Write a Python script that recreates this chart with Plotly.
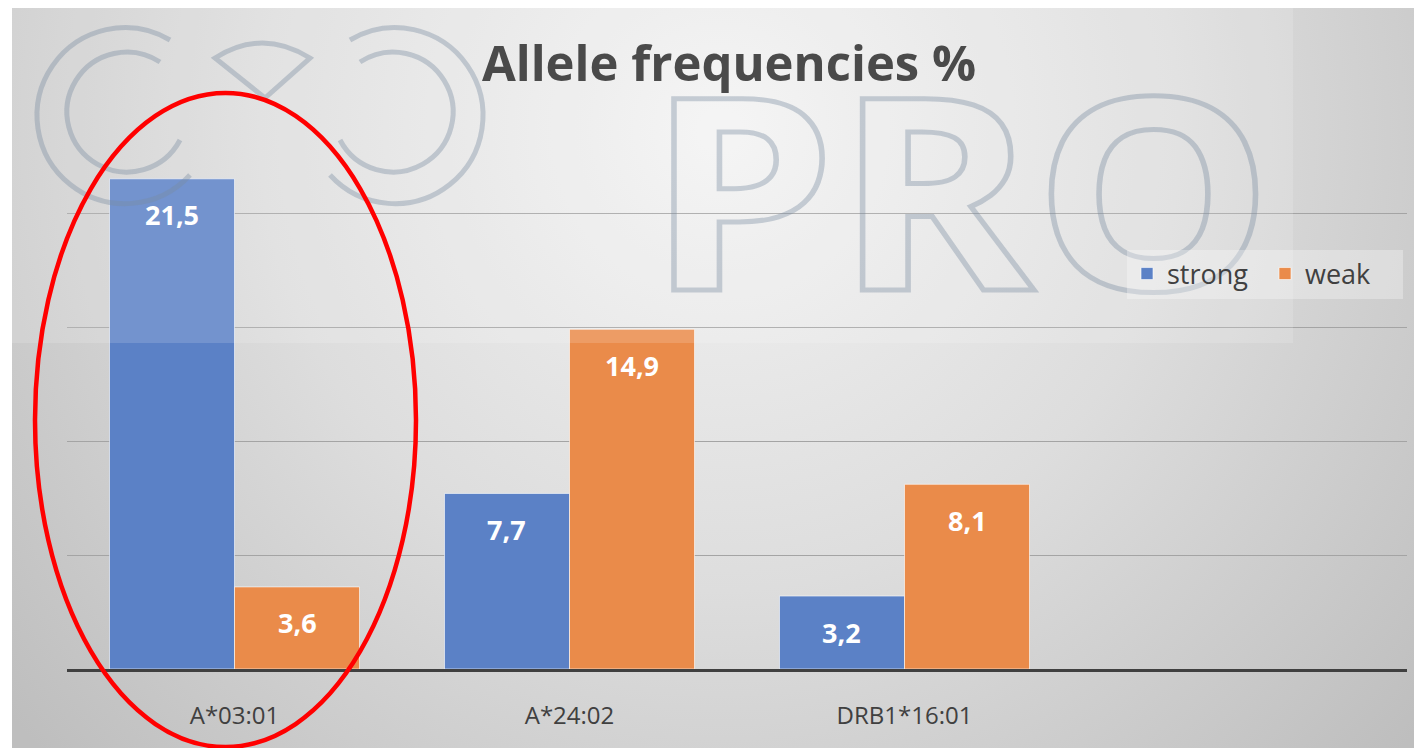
import base64
import plotly.graph_objects as go

# ---- data ----
categories = ["A*03:01", "A*24:02", "DRB1*16:01"]
strong = [21.5, 7.7, 3.2]
weak = [3.6, 14.9, 8.1]
series_names = ["strong", "weak"]
title_text = "Allele frequencies %"

BLUE = "#5b81c6"
ORANGE = "#ea8b4a"
OFF = 8  # page body margin
W, H = 1422 - OFF, 748 - OFF
L, T = 67 - OFF, 99 - OFF
R = W - (1407 - OFF)
B = H - (669 - OFF)
PW, PH = W - L - R, H - T - B


def px(v):
    return v - OFF


def fmt(v):
    return f"{v:.1f}".replace(".", ",")


def svg_uri(svg):
    return "data:image/svg+xml;base64," + base64.b64encode(svg.encode()).decode()


bg_svg = f"""<svg xmlns='http://www.w3.org/2000/svg' width='{W}' height='{H}' viewBox='0 0 {W} {H}'>
<defs><radialGradient id='g' gradientUnits='userSpaceOnUse' cx='{px(720)}' cy='{px(130)}' r='920'>
<stop offset='0' stop-color='#f3f3f3'/><stop offset='0.5' stop-color='#dddddd'/><stop offset='1' stop-color='#bebebe'/>
</radialGradient></defs>
<rect x='0' y='0' width='{W}' height='{H}' fill='#ffffff'/>
<rect x='{px(12)}' y='0' width='{W}' height='{H}' fill='url(#g)'/>
</svg>"""

wm_stroke = "rgba(120,140,160,0.38)"
wm_svg = f"""<svg xmlns='http://www.w3.org/2000/svg' width='{W}' height='{H}' viewBox='0 0 {W} {H}'>
<rect x='{px(12)}' y='0' width='{1293-12}' height='{px(343)}' fill='rgba(255,255,255,0.15)'/>
<g fill='none' stroke='{wm_stroke}' stroke-width='5'>
<path d='M {px(170)} {px(40)} A 88 88 0 1 0 {px(190)} {px(175)}'/>
<path d='M {px(160)} {px(62)} A 60 60 0 1 0 {px(180)} {px(140)}'/>
<path d='M {px(350)} {px(40)} A 88 88 0 1 1 {px(330)} {px(175)}'/>
<path d='M {px(360)} {px(62)} A 60 60 0 1 1 {px(340)} {px(140)}'/>
<path d='M {px(215)} {px(58)} Q {px(262)} {px(28)} {px(310)} {px(58)} L {px(265)} {px(98)} Z'/>
<text x='{px(647)}' y='{px(290)}' font-family='Open Sans' font-weight='700' font-size='268'
 textLength='626' lengthAdjust='spacingAndGlyphs'>PRO</text>
</g>
</svg>"""

fig = go.Figure()
fig.add_trace(go.Bar(name=series_names[0], x=categories, y=strong,
                     marker=dict(color=BLUE, line=dict(color="rgba(255,255,255,0.6)", width=1))))
fig.add_trace(go.Bar(name=series_names[1], x=categories, y=weak,
                     marker=dict(color=ORANGE, line=dict(color="rgba(255,255,255,0.6)", width=1))))

cat_px = PW / 4.0
bar_off = cat_px * (1 - 0.2537) / 4.0
annotations = []
for vals, sign in ((strong, -1), (weak, 1)):
    for c, v in zip(categories, vals):
        annotations.append(dict(x=c, y=v, xref="x", yref="y", text=fmt(v), showarrow=False,
                                xshift=sign * bar_off, yshift=-36,
                                font=dict(family="Open Sans", size=27, color="white", weight="bold")))

fig.update_layout(
    width=W, height=H,
    margin=dict(l=L, r=R, t=T, b=B),
    paper_bgcolor="white", plot_bgcolor="rgba(0,0,0,0)",
    barmode="group", bargap=0.2537, bargroupgap=0,
    separators=", ",
    title=dict(text=title_text, x=px(729) / W, xanchor="center", y=1 - px(64) / H, yanchor="middle",
               xref="container", yref="container",
               font=dict(family="Open Sans", size=49, color="#4a4a4a", weight="bold")),
    xaxis=dict(type="category", range=[-0.5, 3.5], showgrid=False, ticks="",
               showline=True, linecolor="#404040", linewidth=3,
               tickfont=dict(family="Open Sans", size=24, color="#404040"),
               ticklabelstandoff=23),
    yaxis=dict(range=[0, 25], dtick=5, showticklabels=False, showgrid=True,
               gridcolor="#a4a4a4", gridwidth=1, zeroline=False, showline=False),
    legend=dict(orientation="h", x=(px(1403) - L) / PW, xanchor="right",
                y=(px(669) - px(274)) / PH, yanchor="middle",
                bgcolor="rgba(255,255,255,0.3)", font=dict(family="Open Sans", size=27, color="#404040"),
                itemwidth=30, entrywidth=93, tracegroupgap=0),
    showlegend=True,
    annotations=annotations,
    images=[
        dict(source=svg_uri(bg_svg), xref="paper", yref="paper", x=-L / PW, y=(H - B) / PH,
             sizex=W / PW, sizey=H / PH, sizing="stretch", xanchor="left", yanchor="top", layer="below"),
        dict(source=svg_uri(wm_svg), xref="paper", yref="paper", x=-L / PW, y=(H - B) / PH,
             sizex=W / PW, sizey=H / PH, sizing="stretch", xanchor="left", yanchor="top", layer="above"),
    ],
    shapes=[dict(type="circle", xref="paper", yref="paper",
                 x0=(px(35) - L) / PW, x1=(px(416) - L) / PW,
                 y0=(px(669) - px(747)) / PH, y1=(px(669) - px(93)) / PH,
                 line=dict(color="#ff0000", width=4.5))],
)

fig.write_html("out.html")
